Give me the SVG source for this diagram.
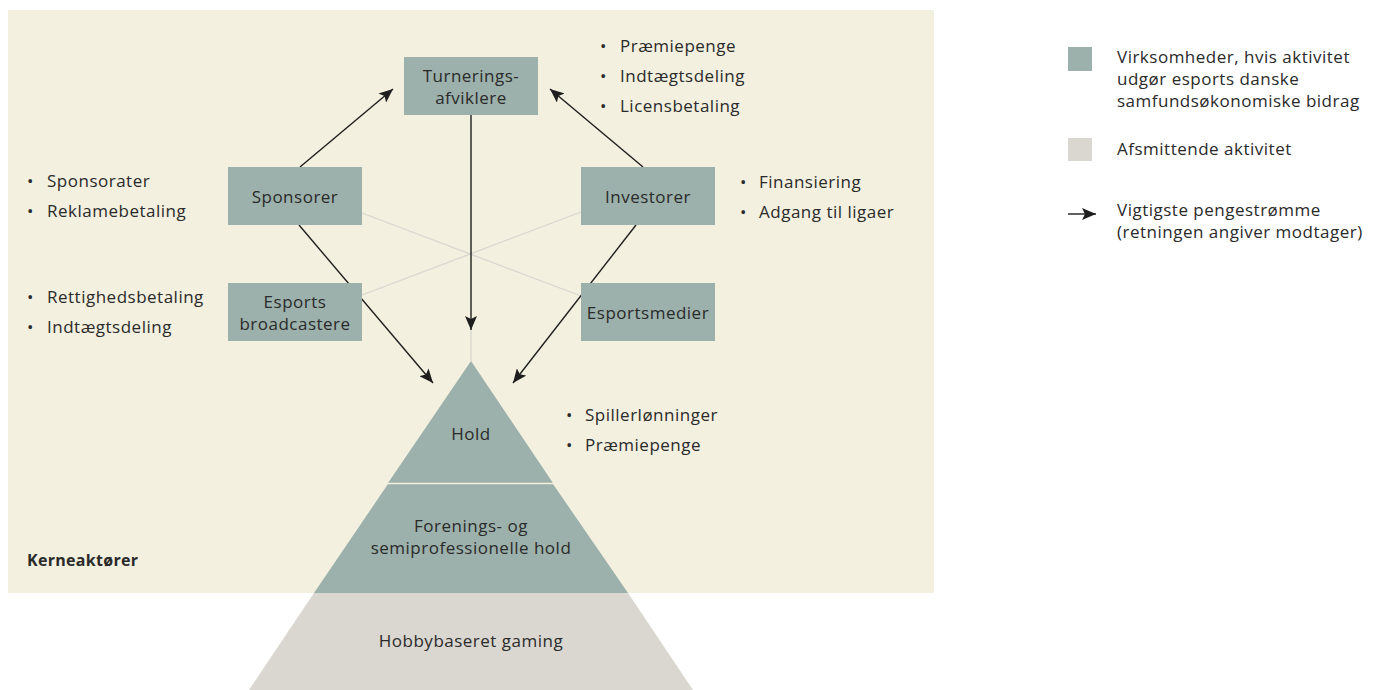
<svg xmlns="http://www.w3.org/2000/svg" width="1381" height="690" viewBox="0 0 1381 690">
<defs>
<marker id="ah" markerWidth="14" markerHeight="12" viewBox="0 0 14 12" refX="14" refY="6" orient="auto" markerUnits="userSpaceOnUse">
<path d="M0,0 L14,6 L0,12 L3,6 Z" fill="#1e1e1e"/>
</marker>
<style>
text{font-family:"Open Sans","Liberation Sans",sans-serif;font-size:17px;letter-spacing:0.5px;fill:#2a2a2a}
.c{text-anchor:middle}
.box{fill:#9cb1ab}
.arr{stroke:#1e1e1e;stroke-width:1.4;fill:none;marker-end:url(#ah)}
.faint{stroke:#d8d6cf;stroke-width:1.3;fill:none}
.b{font-weight:bold;font-size:16px;letter-spacing:0.3px}
</style>
</defs>
<rect width="1381" height="690" fill="#ffffff"/>
<rect x="8" y="10" width="926" height="583" fill="#f3f0e0"/>

<g id="connectors">
<line class="faint" x1="362" y1="213" x2="581" y2="296"/>
<line class="faint" x1="362" y1="295" x2="581" y2="212"/>
<line class="faint" x1="471" y1="329" x2="471" y2="361"/>
<line class="arr" x1="300" y1="167" x2="393" y2="89"/>
<line class="arr" x1="643" y1="167" x2="550" y2="89"/>
<line class="arr" x1="471" y1="115" x2="471" y2="330"/>
<line class="arr" x1="299" y1="225" x2="433" y2="383"/>
<line class="arr" x1="636" y1="225" x2="513" y2="383"/>
</g>

<g id="pyramid-hobby">
<polygon points="314,593 628,593 693,690 249,690" fill="#dad7d1"/>
<text class="c" x="471" y="647">Hobbybaseret gaming</text>
</g>
<g id="pyramid-forenings">
<polygon points="388,484 553,484 628,593 314,593" fill="#9cb1ab"/>
<text class="c" x="471" y="532">Forenings- og</text>
<text class="c" x="471" y="554">semiprofessionelle hold</text>
</g>
<g id="pyramid-hold">
<polygon points="471,361 553,483 388,483" fill="#9cb1ab"/>
<line x1="386" y1="483.5" x2="555" y2="483.5" stroke="#f3f0e0" stroke-width="1.3"/>
<text class="c" x="471" y="440">Hold</text>
</g>

<g id="turnerings">
<rect class="box" x="404" y="57" width="134" height="58"/>
<text class="c" x="471" y="82">Turnerings-</text>
<text class="c" x="471" y="104">afviklere</text>
</g>
<g id="sponsorer">
<rect class="box" x="228" y="167" width="134" height="58"/>
<text class="c" x="295" y="203">Sponsorer</text>
</g>
<g id="investorer">
<rect class="box" x="581" y="167" width="134" height="58"/>
<text class="c" x="648" y="203">Investorer</text>
</g>
<g id="broadcastere">
<rect class="box" x="228" y="283" width="134" height="58"/>
<text class="c" x="295" y="308">Esports</text>
<text class="c" x="295" y="330">broadcastere</text>
</g>
<g id="esportsmedier">
<rect class="box" x="581" y="283" width="134" height="58"/>
<text class="c" x="648" y="319">Esportsmedier</text>
</g>

<g id="bullets">
<text x="27" y="187">•</text><text x="47" y="187">Sponsorater</text>
<text x="27" y="217">•</text><text x="47" y="217">Reklamebetaling</text>
<text x="27" y="303">•</text><text x="47" y="303">Rettighedsbetaling</text>
<text x="27" y="333">•</text><text x="47" y="333">Indtægtsdeling</text>
<text x="600" y="52">•</text><text x="620" y="52">Præmiepenge</text>
<text x="600" y="82">•</text><text x="620" y="82">Indtægtsdeling</text>
<text x="600" y="112">•</text><text x="620" y="112">Licensbetaling</text>
<text x="740" y="188">•</text><text x="759" y="188">Finansiering</text>
<text x="740" y="218">•</text><text x="759" y="218">Adgang til ligaer</text>
<text x="566" y="421">•</text><text x="585" y="421">Spillerlønninger</text>
<text x="566" y="451">•</text><text x="585" y="451">Præmiepenge</text>
</g>

<text class="b" x="27" y="566">Kerneaktører</text>

<g id="legend">
<rect x="1068" y="47" width="24" height="24" fill="#9cb1ab"/>
<text x="1117" y="63">Virksomheder, hvis aktivitet</text>
<text x="1117" y="85">udgør esports danske</text>
<text x="1117" y="107">samfundsøkonomiske bidrag</text>
<rect x="1068" y="138" width="24" height="23" fill="#dad7d1"/>
<text x="1117" y="155">Afsmittende aktivitet</text>
<line class="arr" x1="1068" y1="214" x2="1096" y2="214"/>
<text x="1117" y="216">Vigtigste pengestrømme</text>
<text x="1117" y="238">(retningen angiver modtager)</text>
</g>
</svg>
